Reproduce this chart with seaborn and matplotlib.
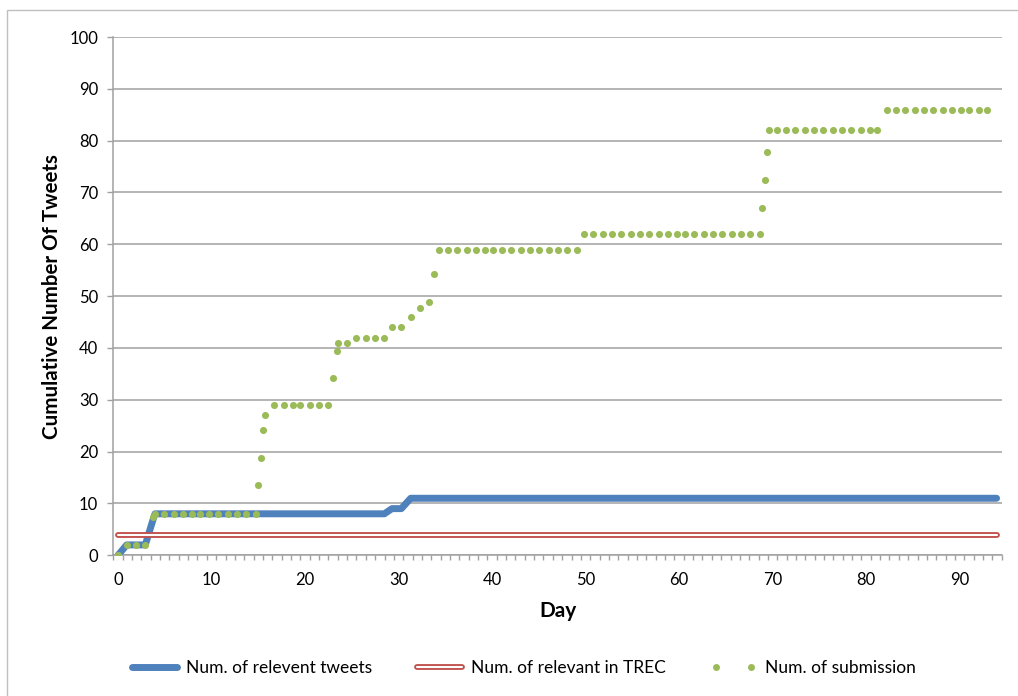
import matplotlib
matplotlib.use("Agg")
import matplotlib.pyplot as plt
import matplotlib.patheffects as pe
from matplotlib.lines import Line2D
from matplotlib.patches import Rectangle
from matplotlib.legend_handler import HandlerLine2D
import numpy as np
import pandas as pd
import seaborn as sns

# Sampling instants (days since the start of the track)
day = [
    0, 0.93, 1.92, 2.92, 3.77, 3.96, 4.95, 5.96, 6.95, 7.94, 8.74, 9.73,
    10.72, 11.73, 12.72, 13.72, 14.72, 15.0, 15.29, 15.54, 15.69, 16.71,
    17.72, 18.71, 19.49, 20.5, 21.49, 22.49, 22.96, 23.39, 23.49, 24.49,
    25.48, 26.49, 27.48, 28.48, 29.3, 30.3, 31.3, 32.29, 33.29, 33.82,
    34.29, 35.29, 36.28, 37.29, 38.28, 39.28, 40.07, 41.06, 42.06, 43.06,
    44.05, 45.05, 46.05, 47.05, 48.04, 49.05, 49.83, 50.82, 51.83, 52.82,
    53.82, 54.82, 55.82, 56.81, 57.82, 58.81, 59.81, 60.63, 61.62, 62.63,
    63.62, 64.62, 65.62, 66.62, 67.61, 68.62, 68.86, 69.15, 69.4, 69.58,
    70.44, 71.43, 72.42, 73.43, 74.42, 75.42, 76.42, 77.42, 78.41, 79.42,
    80.41, 81.19, 82.2, 83.19, 84.18, 85.18, 86.18, 87.18, 88.18, 89.17,
    90.17, 91.03, 92.03, 92.95, 93.95,
]

# Cumulative number of relevant tweets
relevant_tweets = (
    [0, 2, 2, 2, 7, 8] + [8] * 30 + [9, 9] + [11] * 69
)

# Cumulative number of submitted tweets (no submission recorded on the last day)
submissions = (
    [0, 2, 2, 2, 7.4, 8] + [8] * 11
    + [13.5, 18.8, 24.1, 27.1] + [29] * 7
    + [34.2, 39.5, 41, 41] + [42] * 4
    + [44, 44, 46, 47.8, 48.9, 54.2] + [59] * 16
    + [62] * 20 + [67.1, 72.5, 77.8] + [82] * 13
    + [86] * 12 + [np.nan]
)

# Number of relevant tweets in the TREC judgements
trec_relevant = 4

labels = ["Num. of relevent tweets", "Num. of relevant in TREC", "Num. of submission"]
x_ticks = [0, 10, 20, 30, 40, 50, 60, 70, 80, 90]
y_ticks = [0, 10, 20, 30, 40, 50, 60, 70, 80, 90, 100]

df = pd.DataFrame({
    "day": day,
    "relevant": relevant_tweets,
    "submission": submissions,
})
df["trec"] = trec_relevant

BLUE = "#4F81BD"
RED = "#C0504D"
GREEN = "#9BBB59"
GRID = "#A0A0A0"

sns.set_theme(style="white")
plt.rcParams["font.family"] = ["Lato", "DejaVu Sans"]
plt.rcParams["text.color"] = "black"
plt.rcParams["axes.labelcolor"] = "black"

fig = plt.figure(figsize=(10.18, 6.96), dpi=100)
ax = fig.add_axes([0.1113, 0.2022, 0.8727, 0.7446])

# double red rule: a red stroke with a white core
red_effects = [pe.Stroke(linewidth=4.2, foreground=RED), pe.Normal()]

sns.lineplot(data=df, x="day", y="relevant", ax=ax, color=BLUE, lw=5.0,
             solid_capstyle="round", solid_joinstyle="round",
             estimator=None, sort=False, zorder=3, legend=False)
sns.lineplot(data=df, x="day", y="trec", ax=ax, color="white", lw=1.5,
             estimator=None, sort=False, zorder=4, legend=False,
             path_effects=red_effects)
sns.scatterplot(data=df, x="day", y="submission", ax=ax, color=GREEN, s=26,
                linewidth=0, zorder=5, legend=False)

ax.set_xlim(-0.5, 94.5)
ax.set_ylim(0, 100)
ax.set_xticks(x_ticks)
ax.set_xticks(np.arange(-0.5, 95, 1), minor=True)
ax.set_yticks(y_ticks)
ax.tick_params(axis="x", which="major", length=0, pad=12, labelsize=12,
               labelcolor="black")
ax.tick_params(axis="x", which="minor", direction="out", length=3.8,
               width=1.0, color=GRID, bottom=True)
ax.tick_params(axis="y", which="major", direction="out", length=4.3,
               width=1.0, color=GRID, left=True, pad=6.5, labelsize=12,
               labelcolor="black")

ax.yaxis.grid(True, color=GRID, lw=1.1)
ax.xaxis.grid(False)
ax.set_axisbelow(True)
for side in ("top", "right"):
    ax.spines[side].set_visible(False)
for side in ("left", "bottom"):
    ax.spines[side].set_color(GRID)
    ax.spines[side].set_linewidth(1.1)

ax.set_xlabel("Day", fontsize=15, fontweight="bold", va="center")
ax.set_ylabel("Cumulative Number Of Tweets", fontsize=14.8, fontweight="bold",
              va="center")
ax.xaxis.set_label_coords(0.5, -0.1075)
ax.yaxis.set_label_coords(-0.0695, 0.5)

handles = [
    Line2D([], [], color=BLUE, lw=5.0, solid_capstyle="round"),
    Line2D([], [], color="white", lw=1.5, path_effects=red_effects),
    Line2D([], [], color=GREEN, ls="none", marker="o", markersize=5.0,
           markeredgewidth=0),
]
fig.legend(handles, labels, loc="center", bbox_to_anchor=(0.512, 0.04),
           ncol=3, frameon=False, fontsize=12.5, handlelength=3.2,
           handletextpad=0.2, columnspacing=2.3, numpoints=2,
           handler_map={handles[2]: HandlerLine2D(numpoints=2, marker_pad=0.6)})

# light chart-area border
fig.patches.append(Rectangle((7 / 1018, -0.05), 1.2, 1 - 10 / 696 + 0.05,
                             transform=fig.transFigure, fill=False,
                             edgecolor="#BFBFBF", lw=1.0))

fig.savefig("out.png", dpi=100)
